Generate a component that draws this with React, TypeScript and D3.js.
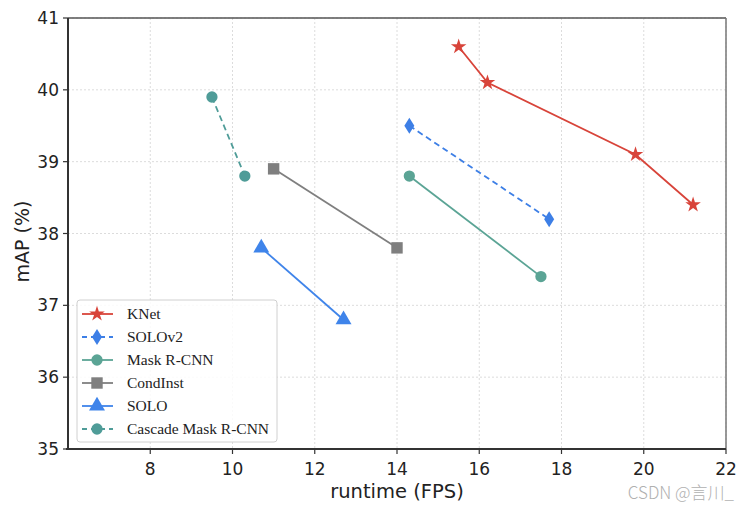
import React from "react";
import * as d3 from "d3";

const seriesNames = ["KNet", "SOLOv2", "Mask R-CNN", "CondInst", "SOLO", "Cascade Mask R-CNN"];
const knetX = [15.5, 16.2, 19.8, 21.2];
const knetY = [40.6, 40.1, 39.1, 38.4];
const solov2X = [14.3, 17.7];
const solov2Y = [39.5, 38.2];
const maskX = [14.3, 17.5];
const maskY = [38.8, 37.4];
const condX = [11.0, 14.0];
const condY = [38.9, 37.8];
const soloX = [10.7, 12.7];
const soloY = [37.8, 36.8];
const cascadeX = [9.5, 10.3];
const cascadeY = [39.9, 38.8];
const xTicks = [8, 10, 12, 14, 16, 18, 20, 22];
const yTicks = [35, 36, 37, 38, 39, 40, 41];

type Marker = "star" | "diamond" | "circle" | "square" | "triangle";
const styles: { color: string; dash: string | null; marker: Marker; size: number }[] = [
  { color: "#d8443a", dash: null, marker: "star", size: 75 },
  { color: "#3d7fe6", dash: "6,4", marker: "diamond", size: 90 },
  { color: "#5ba495", dash: null, marker: "circle", size: 100 },
  { color: "#7f7f7f", dash: null, marker: "square", size: 130 },
  { color: "#3f84ea", dash: null, marker: "triangle", size: 110 },
  { color: "#4f9c98", dash: "6,4", marker: "circle", size: 100 },
];

const W = 747, H = 512;
const left = 68, right = 726, top = 18, bottom = 449;

function markerPath(m: Marker, size: number): string {
  if (m === "diamond") {
    const w = 5, h = 8;
    return `M0,${-h}L${w},0L0,${h}L${-w},0Z`;
  }
  const typeMap: Record<string, d3.SymbolType> = {
    star: d3.symbolStar,
    circle: d3.symbolCircle,
    square: d3.symbolSquare,
    triangle: d3.symbolTriangle,
  };
  return d3.symbol().type(typeMap[m]).size(size)() || "";
}

export default function App() {
  const x = d3.scaleLinear().domain([6, 22]).range([left, right]);
  const y = d3.scaleLinear().domain([35, 41]).range([bottom, top]);
  const data = [
    [knetX, knetY],
    [solov2X, solov2Y],
    [maskX, maskY],
    [condX, condY],
    [soloX, soloY],
    [cascadeX, cascadeY],
  ].map(([xs, ys]) => xs.map((v, i) => [v, ys[i]] as [number, number]));
  const line = d3.line<[number, number]>().x((d) => x(d[0])).y((d) => y(d[1]));

  const legX = 77, legY = 300, legW = 200, legH = 142;
  const rowH = 23;

  return (
    <svg width={W} height={H} style={{ position: "absolute", left: 0, top: 0, background: "#fff" }}>
      {/* grid */}
      {xTicks.map((t) => (
        <line key={"gx" + t} x1={x(t)} x2={x(t)} y1={top} y2={bottom} stroke="#dcdcdc" strokeDasharray="2,2" strokeWidth={1} />
      ))}
      {yTicks.map((t) => (
        <line key={"gy" + t} x1={left} x2={right} y1={y(t)} y2={y(t)} stroke="#dcdcdc" strokeDasharray="2,2" strokeWidth={1} />
      ))}
      {/* frame */}
      <line x1={left} x2={right} y1={top} y2={top} stroke="#555" strokeWidth={1.5} />
      <line x1={right} x2={right} y1={top} y2={bottom} stroke="#777" strokeWidth={1.5} />
      <line x1={left} x2={left} y1={top} y2={bottom} stroke="#333" strokeWidth={2} />
      <line x1={left - 2} x2={right} y1={bottom} y2={bottom} stroke="#333" strokeWidth={2} />
      {/* ticks */}
      {xTicks.map((t) => (
        <g key={"xt" + t}>
          <line x1={x(t)} x2={x(t)} y1={bottom} y2={bottom + 5} stroke="#333" strokeWidth={1.2} />
          <text x={x(t)} y={bottom + 26} textAnchor="middle" fontFamily="DejaVu Sans" fontSize={17} fill="#222">{t}</text>
        </g>
      ))}
      {yTicks.map((t) => (
        <g key={"yt" + t}>
          <line x1={left - 5} x2={left} y1={y(t)} y2={y(t)} stroke="#333" strokeWidth={1.2} />
          <text x={left - 9} y={y(t) + 6} textAnchor="end" fontFamily="DejaVu Sans" fontSize={17} fill="#222">{t}</text>
        </g>
      ))}
      <text x={(left + right) / 2} y={498} textAnchor="middle" fontFamily="DejaVu Sans" fontSize={19.5} fill="#222">runtime (FPS)</text>
      <text transform={`translate(29,${(top + bottom) / 2 + 8}) rotate(-90)`} textAnchor="middle" fontFamily="DejaVu Sans" fontSize={19} fill="#222">mAP (%)</text>
      {/* series */}
      {data.map((pts, i) => (
        <g key={"s" + i}>
          <path d={line(pts) || ""} fill="none" stroke={styles[i].color} strokeWidth={1.8} strokeDasharray={styles[i].dash || undefined} />
          {pts.map((p, j) => (
            <path key={j} d={markerPath(styles[i].marker, styles[i].size)} transform={`translate(${x(p[0])},${y(p[1])})`} fill={styles[i].color} />
          ))}
        </g>
      ))}
      {/* legend */}
      <rect x={legX} y={legY} width={legW} height={legH} rx={3} fill="rgba(255,255,255,0.85)" stroke="#d0d0d0" strokeWidth={1} />
      {seriesNames.map((n, i) => {
        const cy = legY + 14 + i * rowH;
        const s = styles[i];
        return (
          <g key={"l" + i}>
            <line x1={legX + 5} x2={legX + 36} y1={cy} y2={cy} stroke={s.color} strokeWidth={1.8} strokeDasharray={s.dash ? "5,4" : undefined} />
            <path d={markerPath(s.marker, s.size)} transform={`translate(${legX + 20},${cy})`} fill={s.color} />
            <text x={legX + 50} y={cy + 5} fontFamily="Liberation Serif" fontSize={15.5} fill="#222">{n}</text>
          </g>
        );
      })}
      <text x={734} y={499} textAnchor="end" fontFamily="Noto Sans CJK SC" fontSize={17} fontWeight={300} fill="#b0b0b0">CSDN @言川_</text>
    </svg>
  );
}
